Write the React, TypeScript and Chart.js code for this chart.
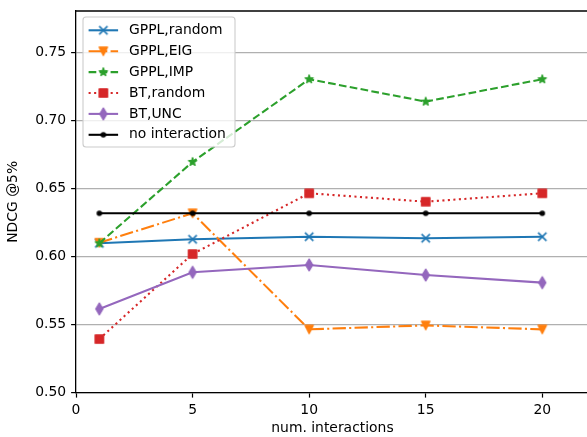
import React, { useEffect, useRef } from 'react';
import { Chart, registerables } from 'chart.js';

Chart.register(...registerables);

const xValues = [1, 5, 10, 15, 20];
const gpplRandom = [0.6097, 0.6126, 0.6145, 0.6134, 0.6145];
const gpplEIG = [0.6101, 0.6317, 0.5465, 0.5494, 0.5465];
const gpplIMP = [0.6097, 0.6694, 0.7301, 0.7137, 0.7301];
const btRandom = [0.5394, 0.6018, 0.6464, 0.6402, 0.6464];
const btUNC = [0.5615, 0.5884, 0.5938, 0.5864, 0.5808];
const noInteraction = [0.6317, 0.6317, 0.6317, 0.6317, 0.6317];
const seriesLabels = ['GPPL,random', 'GPPL,EIG', 'GPPL,IMP', 'BT,random', 'BT,UNC', 'no interaction'];
const xTicks = [0, 5, 10, 15, 20];
const yTicks = [0.5, 0.55, 0.6, 0.65, 0.7, 0.75];

const FONT = { family: 'DejaVu Sans', size: 13.9 };
const LW = 2.08;
const CANVAS_W = 600;
const CANVAS_H = 437;
const GRID_W = 1.2;
const AXIS_W = 1.3;

function makeMarker(kind: string, color: string): HTMLCanvasElement {
  const S = 16;
  const c = document.createElement('canvas');
  c.width = S;
  c.height = S;
  const ctx = c.getContext('2d') as CanvasRenderingContext2D;
  const cx = S / 2;
  const cy = S / 2;
  const ms = 8.33;
  ctx.fillStyle = color;
  ctx.strokeStyle = color;
  ctx.lineWidth = 1.39;
  ctx.lineJoin = 'round';
  ctx.beginPath();
  if (kind === 'x') {
    const h = ms / 2;
    ctx.moveTo(cx - h, cy - h);
    ctx.lineTo(cx + h, cy + h);
    ctx.moveTo(cx - h, cy + h);
    ctx.lineTo(cx + h, cy - h);
    ctx.lineWidth = 1.6;
    ctx.stroke();
    return c;
  }
  if (kind === 'v') {
    const h = ms / 2;
    ctx.moveTo(cx, cy + h);
    ctx.lineTo(cx - h, cy - h);
    ctx.lineTo(cx + h, cy - h);
    ctx.closePath();
  } else if (kind === '*') {
    const R = ms / 2;
    const r = R * 0.381966;
    for (let i = 0; i < 10; i++) {
      const a = -Math.PI / 2 + (i * Math.PI) / 5;
      const rad = i % 2 === 0 ? R : r;
      const px = cx + rad * Math.cos(a);
      const py = cy + rad * Math.sin(a);
      if (i === 0) ctx.moveTo(px, py);
      else ctx.lineTo(px, py);
    }
    ctx.closePath();
  } else if (kind === 's') {
    const h = ms / 2;
    ctx.rect(cx - h, cy - h, ms, ms);
  } else if (kind === 'd') {
    const hy = ms * Math.SQRT1_2;
    const hx = hy * 0.6;
    ctx.moveTo(cx, cy - hy);
    ctx.lineTo(cx + hx, cy);
    ctx.lineTo(cx, cy + hy);
    ctx.lineTo(cx - hx, cy);
    ctx.closePath();
  } else if (kind === '.') {
    ctx.arc(cx, cy, ms / 4, 0, Math.PI * 2);
  }
  ctx.fill();
  ctx.stroke();
  return c;
}

const seriesValues = [gpplRandom, gpplEIG, gpplIMP, btRandom, btUNC, noInteraction];
const seriesColors = ['#1f77b4', '#ff7f0e', '#2ca02c', '#d62728', '#9467bd', '#000000'];
const seriesMarkers = ['x', 'v', '*', 's', 'd', '.'];
const seriesDashes: number[][] = [
  [],
  [13.3, 3.3, 2.08, 3.3],
  [7.7, 3.3],
  [2.08, 3.43],
  [],
  [],
];

function alignPx(pixel: number, width: number) {
  const half = width / 2;
  return Math.round(pixel - half) + half;
}

export default function App() {
  const ref = useRef<HTMLCanvasElement | null>(null);

  useEffect(() => {
    if (!ref.current) return;
    const markerImgs = seriesMarkers.map((m, i) => makeMarker(m, seriesColors[i]));

    const datasets = seriesLabels.map((label, i) => ({
      label,
      data: xValues.map((x, j) => ({ x, y: seriesValues[i][j] })),
      borderColor: seriesColors[i],
      backgroundColor: seriesColors[i],
      borderWidth: LW,
      borderDash: seriesDashes[i],
      pointStyle: markerImgs[i] as any,
      pointRadius: 5,
      pointHoverRadius: 5,
      tension: 0,
      fill: false,
      order: -i,
    }));

    const overlay = {
      id: 'overlay',
      afterDraw(chart: any) {
        const { ctx, chartArea } = chart;
        const yScale = chart.scales.y;
        ctx.save();

        // clean the strip right of the data and restore grid/axis there
        const sx = 565;
        ctx.fillStyle = '#ffffff';
        ctx.fillRect(sx, chartArea.top - 2, CANVAS_W - sx, chartArea.bottom - chartArea.top + 6);
        ctx.strokeStyle = '#b0b0b0';
        ctx.lineWidth = GRID_W;
        for (const v of yTicks) {
          const py = alignPx(yScale.getPixelForValue(v), GRID_W);
          ctx.beginPath();
          ctx.moveTo(sx, py);
          ctx.lineTo(CANVAS_W, py);
          ctx.stroke();
        }
        ctx.strokeStyle = '#000';
        ctx.lineWidth = AXIS_W;
        const by0 = alignPx(chartArea.bottom, AXIS_W);
        ctx.beginPath();
        ctx.moveTo(sx, by0);
        ctx.lineTo(CANVAS_W, by0);
        ctx.stroke();

        // top spine
        ctx.beginPath();
        ctx.moveTo(chartArea.left - 0.6, chartArea.top);
        ctx.lineTo(CANVAS_W, chartArea.top);
        ctx.stroke();

        // legend
        const bx = chartArea.left + 7;
        const by = chartArea.top + 6;
        const bw = 152;
        const bh = 130;
        const rr = 3;
        ctx.beginPath();
        ctx.moveTo(bx + rr, by);
        ctx.lineTo(bx + bw - rr, by);
        ctx.arcTo(bx + bw, by, bx + bw, by + rr, rr);
        ctx.lineTo(bx + bw, by + bh - rr);
        ctx.arcTo(bx + bw, by + bh, bx + bw - rr, by + bh, rr);
        ctx.lineTo(bx + rr, by + bh);
        ctx.arcTo(bx, by + bh, bx, by + bh - rr, rr);
        ctx.lineTo(bx, by + rr);
        ctx.arcTo(bx, by, bx + rr, by, rr);
        ctx.closePath();
        ctx.fillStyle = 'rgba(255,255,255,0.8)';
        ctx.fill();
        ctx.strokeStyle = '#cccccc';
        ctx.lineWidth = 1.1;
        ctx.stroke();

        const x0 = bx + 5.6;
        const hl = 29.5;
        const tx = bx + 46;
        for (let i = 0; i < seriesLabels.length; i++) {
          const y = by + 13.3 + i * 20.9;
          ctx.strokeStyle = seriesColors[i];
          ctx.lineWidth = LW;
          ctx.setLineDash(seriesDashes[i]);
          ctx.lineCap = 'butt';
          ctx.beginPath();
          ctx.moveTo(x0, y);
          ctx.lineTo(x0 + hl, y);
          ctx.stroke();
          ctx.setLineDash([]);
          const img = markerImgs[i];
          ctx.drawImage(img, x0 + hl / 2 - img.width / 2, y - img.height / 2);
          ctx.fillStyle = '#000';
          ctx.font = `${FONT.size}px "${FONT.family}"`;
          ctx.textBaseline = 'middle';
          ctx.textAlign = 'left';
          ctx.fillText(seriesLabels[i], tx, y);
        }
        ctx.restore();
      },
    };

    const chart = new Chart(ref.current, {
      type: 'line',
      data: { datasets: datasets as any },
      plugins: [overlay],
      options: {
        animation: false,
        responsive: false,
        devicePixelRatio: 1,
        layout: { autoPadding: false, padding: { top: 11, right: 11.1, left: 0, bottom: 0 } },
        plugins: {
          legend: { display: false },
          tooltip: { enabled: false },
        },
        scales: {
          x: {
            type: 'linear',
            min: 0,
            max: 22,
            afterBuildTicks: (s: any) => {
              s.ticks = xTicks.map((v) => ({ value: v }));
            },
            afterFit: (s: any) => {
              s.height = 44.3;
              s.paddingRight = 0;
              s.paddingLeft = 0;
            },
            ticks: {
              font: FONT,
              color: '#000',
              padding: 4.2,
              maxRotation: 0,
              autoSkip: false,
              callback: (v: any) => String(v),
            },
            grid: {
              drawOnChartArea: false,
              tickLength: 4.9,
              tickColor: '#000',
              tickWidth: 1.2,
            },
            border: { color: '#000', width: AXIS_W },
            title: {
              display: true,
              text: 'num. interactions',
              font: FONT,
              color: '#000',
              padding: { top: 0, bottom: 0 },
            },
          },
          y: {
            type: 'linear',
            min: 0.5,
            max: 0.7802,
            afterBuildTicks: (s: any) => {
              s.ticks = yTicks.map((v) => ({ value: v }));
            },
            afterFit: (s: any) => {
              s.width = 76;
              s.paddingTop = 0;
              s.paddingBottom = 0;
            },
            ticks: {
              font: FONT,
              color: '#000',
              padding: 4.9,
              autoSkip: false,
              callback: (v: any) => Number(v).toFixed(2),
            },
            grid: {
              color: '#b0b0b0',
              lineWidth: GRID_W,
              tickLength: 4.9,
              tickColor: '#000',
              tickWidth: 1.2,
            },
            border: { color: '#000', width: AXIS_W },
            title: {
              display: true,
              text: 'NDCG @5%',
              font: FONT,
              color: '#000',
              padding: { top: 4.7, bottom: 0 },
            },
          },
        },
      },
    });
    return () => chart.destroy();
  }, []);

  return (
    <div style={{ position: 'absolute', left: 0, top: 0, width: 587, height: 437, overflow: 'hidden' }}>
      <canvas
        ref={ref}
        width={CANVAS_W}
        height={CANVAS_H}
        style={{ width: CANVAS_W, height: CANVAS_H, display: 'block' }}
      />
    </div>
  );
}
